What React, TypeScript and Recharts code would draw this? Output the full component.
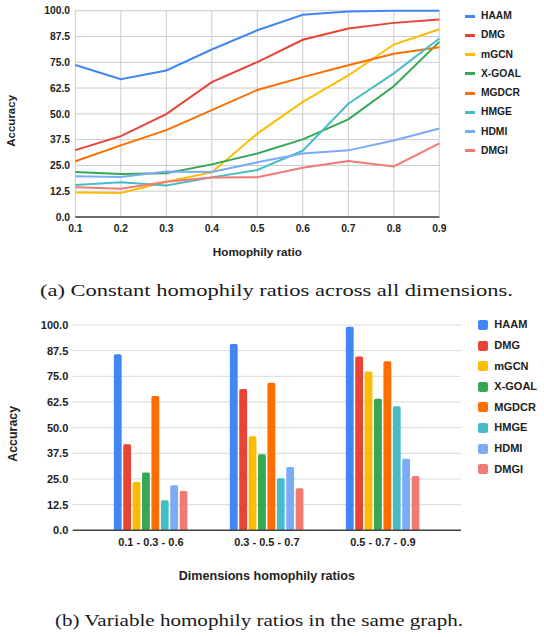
import React from 'react';
import { LineChart, Line, BarChart, Bar, XAxis, YAxis, CartesianGrid, Legend } from 'recharts';

// Methods compared and their series colours
const methods = ['HAAM', 'DMG', 'mGCN', 'X-GOAL', 'MGDCR', 'HMGE', 'HDMI', 'DMGI'];
const methodColors = ['#4285F4', '#EA4335', '#FBBC04', '#34A853', '#FF6D01', '#46BDC6', '#7BAAF7', '#F07B72'];

// (a) constant homophily ratio across all dimensions
const homophilyRatios = [0.1, 0.2, 0.3, 0.4, 0.5, 0.6, 0.7, 0.8, 0.9];
const haamLine = [73.7, 66.8, 71.0, 81.2, 90.5, 98.0, 99.6, 100, 100];
const dmgLine = [32.4, 39.2, 49.9, 65.4, 75.1, 85.9, 91.4, 94.1, 95.7];
const mgcnLine = [11.9, 11.6, 17.1, 21.6, 40.4, 55.8, 68.6, 83.6, 91.0];
const xgoalLine = [21.8, 20.8, 21.2, 25.5, 30.8, 37.6, 47.3, 63.4, 84.9];
const mgdcrLine = [27.0, 34.7, 42.1, 51.8, 61.6, 67.8, 73.6, 79.1, 82.3];
const hmgeLine = [15.5, 16.9, 15.3, 19.2, 22.8, 32.1, 54.9, 69.6, 86.5];
const hdmiLine = [19.7, 19.4, 22.1, 21.8, 26.5, 30.8, 32.3, 37.1, 42.9];
const dmgiLine = [14.4, 13.7, 17.1, 19.2, 19.3, 23.9, 27.1, 24.5, 35.7];

// (b) different homophily ratio per dimension
const ratioGroups = ['0.1 - 0.3 - 0.6', '0.3 - 0.5 - 0.7', '0.5 - 0.7 - 0.9'];
const haamBars = [85.7, 90.7, 99.2];
const dmgBars = [41.9, 68.8, 84.6];
const mgcnBars = [23.5, 45.8, 77.4];
const xgoalBars = [28.1, 37.0, 64.1];
const mgdcrBars = [65.4, 71.9, 82.3];
const hmgeBars = [14.6, 25.3, 60.4];
const hdmiBars = [21.9, 30.8, 34.9];
const dmgiBars = [19.2, 20.5, 26.5];

const accuracyTicks = [0, 12.5, 25, 37.5, 50, 62.5, 75, 87.5, 100];

const lineSeries = [haamLine, dmgLine, mgcnLine, xgoalLine, mgdcrLine, hmgeLine, hdmiLine, dmgiLine];
const barSeries = [haamBars, dmgBars, mgcnBars, xgoalBars, mgdcrBars, hmgeBars, hdmiBars, dmgiBars];

const lineData = homophilyRatios.map((ratio, i) => {
  const row: Record<string, number> = { ratio };
  methods.forEach((m, k) => { row[m] = lineSeries[k][i]; });
  return row;
});

const barData = ratioGroups.map((group, i) => {
  const row: Record<string, string | number> = { group };
  methods.forEach((m, k) => { row[m] = barSeries[k][i]; });
  return row;
});

const SANS = '"Liberation Sans", Arial, sans-serif';
const INK = '#222222';

const fmt1 = (v: number) => Number(v).toFixed(1);

const xTitle = (text: string, dy: number, size: number) => (props: any) => {
  const vb = props.viewBox || {};
  return (
    <text x={vb.x + vb.width / 2} y={vb.y + dy} textAnchor="middle" dominantBaseline="central"
      fontFamily={SANS} fontWeight="bold" fontSize={size} fill={INK}>{text}</text>
  );
};

const yTitle = (text: string, dx: number, dy: number, size: number) => (props: any) => {
  const vb = props.viewBox || {};
  const cx = vb.x + dx;
  const cy = vb.y + vb.height / 2 + dy;
  return (
    <text x={cx} y={cy} transform={`rotate(-90 ${cx} ${cy})`} textAnchor="middle" dominantBaseline="central"
      fontFamily={SANS} fontWeight="bold" fontSize={size} fill={INK}>{text}</text>
  );
};

const LineKey = () => (
  <div>
    {methods.map((m, i) => (
      <div key={m} style={{ height: 19.25, display: 'flex', alignItems: 'center' }}>
        <span style={{ width: 10, height: 3, background: methodColors[i], marginRight: 6, flex: 'none' }} />
        <span style={{ fontFamily: SANS, fontWeight: 'bold', fontSize: 10.3, color: INK, lineHeight: '12px' }}>{m}</span>
      </div>
    ))}
  </div>
);

const BarKey = () => (
  <div>
    {methods.map((m, i) => (
      <div key={m} style={{ height: 20.6, display: 'flex', alignItems: 'center' }}>
        <span style={{ width: 10, height: 10, borderRadius: 2, background: methodColors[i], marginRight: 6, flex: 'none' }} />
        <span style={{ fontFamily: SANS, fontWeight: 'bold', fontSize: 11, color: INK, lineHeight: '13px' }}>{m}</span>
      </div>
    ))}
  </div>
);

export default function App() {
  return (
    <div style={{ position: 'absolute', left: 0, top: 0, width: 544, height: 637, background: '#ffffff', overflow: 'hidden' }}>
      <div style={{ position: 'absolute', left: 0, top: 0 }}>
        <LineChart width={544} height={265} data={lineData}
          margin={{ top: 10.7, right: 104.7, bottom: 18, left: 10.3 }}>
          <CartesianGrid stroke="#cccccc" strokeWidth={1} />
          <XAxis dataKey="ratio" type="number" domain={[0.1, 0.9]} ticks={homophilyRatios}
            tickFormatter={fmt1} height={30} tickLine={false} tickSize={0} tickMargin={7.7}
            axisLine={{ stroke: '#444444', strokeWidth: 1.5 }}
            tick={{ fontFamily: SANS, fontWeight: 'bold', fontSize: 10.3, fill: INK }}
            label={{ content: xTitle('Homophily ratio', 34, 11.7) }} />
          <YAxis type="number" domain={[0, 100]} ticks={accuracyTicks} tickFormatter={fmt1}
            width={65} tickLine={false} tickSize={0} tickMargin={5.3} axisLine={false}
            tick={{ fontFamily: SANS, fontWeight: 'bold', fontSize: 10.3, fill: INK }}
            label={{ content: yTitle('Accuracy', 1, 7, 11.5) }} />
          {methods.map((m, i) => (
            <Line key={m} dataKey={m} name={m} type="linear" stroke={methodColors[i]} strokeWidth={2}
              dot={false} activeDot={false} isAnimationActive={false} />
          ))}
          <Legend layout="horizontal" align="center" verticalAlign="middle" content={<LineKey />}
            wrapperStyle={{ left: 465, top: 6.4, right: 'auto', bottom: 'auto', width: 79 }} />
        </LineChart>
      </div>

      <div style={{ position: 'absolute', left: 0, top: 300 }}>
        <BarChart width={544} height={290} data={barData}
          margin={{ top: 25, right: 83, bottom: 29.7, left: 10.7 }}
          barSize={7.8} barGap={1.6}>
          <CartesianGrid stroke="#d9d9d9" vertical={false} />
          <XAxis dataKey="group" type="category" padding={{ left: 20.15, right: 20.15 }} height={30}
            tickLine={false} tickSize={0} tickMargin={8.2}
            axisLine={{ stroke: '#444444', strokeWidth: 1.5 }}
            tick={{ fontFamily: SANS, fontWeight: 'bold', fontSize: 11, fill: INK }}
            label={{ content: xTitle('Dimensions homophily ratios', 45.7, 12.6) }} />
          <YAxis type="number" domain={[0, 100]} ticks={accuracyTicks} tickFormatter={fmt1}
            width={62} tickLine={false} tickSize={0} tickMargin={4.4} axisLine={false}
            tick={{ fontFamily: SANS, fontWeight: 'bold', fontSize: 11, fill: INK }}
            label={{ content: yTitle('Accuracy', 2.6, 6.2, 12.4) }} />
          {methods.map((m, i) => (
            <Bar key={m} dataKey={m} name={m} fill={methodColors[i]} radius={[1.5, 1.5, 0, 0]}
              isAnimationActive={false} />
          ))}
          <Legend layout="horizontal" align="center" verticalAlign="middle" content={<BarKey />}
            wrapperStyle={{ left: 478.3, top: 14.7, right: 'auto', bottom: 'auto', width: 65 }} />
        </BarChart>
      </div>

      <svg width={544} height={637} style={{ position: 'absolute', left: 0, top: 0, pointerEvents: 'none' }}>
        <text x={40} y={296} textLength={473} lengthAdjust="spacingAndGlyphs"
          fontFamily='"Liberation Serif", "Times New Roman", serif' fontSize={16.5} fill="#1a1a1a">
          (a) Constant homophily ratios across all dimensions.
        </text>
        <text x={55} y={626} textLength={408} lengthAdjust="spacingAndGlyphs"
          fontFamily='"Liberation Serif", "Times New Roman", serif' fontSize={16.5} fill="#1a1a1a">
          (b) Variable homophily ratios in the same graph.
        </text>
      </svg>
    </div>
  );
}
